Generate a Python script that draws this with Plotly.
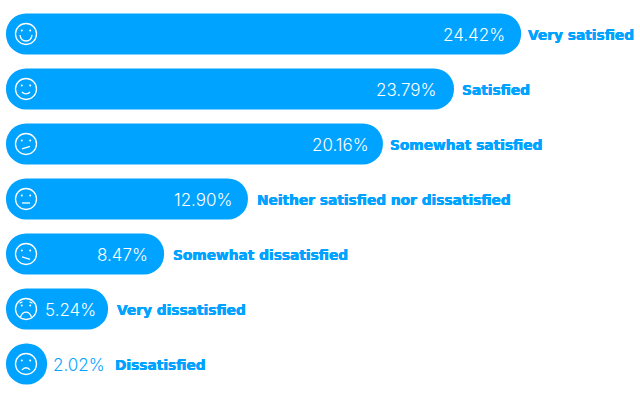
import plotly.graph_objects as go

categories = ["Very satisfied", "Satisfied", "Somewhat satisfied",
              "Neither satisfied nor dissatisfied", "Somewhat dissatisfied",
              "Very dissatisfied", "Dissatisfied"]
percent_labels = ["24.42%", "23.79%", "20.16%", "12.90%", "8.47%", "5.24%", "2.02%"]
# drawn bar lengths (not strictly proportional to labels)
bar_lengths = [27.47, 23.89, 20.1, 12.9, 8.43, 5.44, 2.19]
faces = ["big", "smile", "smirk", "flat", "skew", "sad", "frown"]
percent_shifts = [-14, -16, -12, -14, -14, -10, 4]
label_shifts = [5, 6, 5, 7, 7, 7, 66]

BLUE = "#00A3FF"
FONT = "DejaVu Sans"
PFONT = "Inter"

mouths = {
    "big": "M-6,1 C-5,9 5,9 6,1",
    "smile": "M-4,3 C-2,5.5 2,5.5 4,3",
    "smirk": "M-4,5 L4,2.3",
    "flat": "M-4,4 L4,4",
    "skew": "M-4,3 L4,5.5",
    "sad": "M-5.5,8 C-3,1.5 3,1.5 5.5,8",
    "frown": "M-4,6 C-2,3 2,3 4,6",
}

# with an explicit base, plotly rounds both ends of each bar
fig = go.Figure(go.Bar(
    x=bar_lengths, y=categories, base=[0] * len(categories), orientation="h",
    marker=dict(color=BLUE, cornerradius=20.5, line=dict(width=0)),
    width=0.745, hoverinfo="skip",
))

shapes = []
annotations = []
for cat, pct, length, face, ps, ls in zip(categories, percent_labels, bar_lengths,
                                          faces, percent_shifts, label_shifts):
    anchor = dict(xref="x", yref="y", xanchor=0, yanchor=cat,
                  xsizemode="pixel", ysizemode="pixel")
    shapes.append(dict(type="circle", x0=9.5, x1=30.5, y0=-10.5, y1=10.5,
                       line=dict(color="white", width=1.3), **anchor))
    for ex in (15.8, 24.2):
        shapes.append(dict(type="circle", x0=ex - 1, x1=ex + 1, y0=2.4, y1=4.4,
                           fillcolor="white", line=dict(width=0), **anchor))
    m = mouths[face]
    parts = []
    for tok in m.replace("M", " M ").replace("C", " C ").replace("L", " L ").split():
        if "," in tok:
            a, b = tok.split(",")
            parts.append(f"{float(a) + 20},{-float(b)}")
        else:
            parts.append(tok)
    shapes.append(dict(type="path", path=" ".join(parts),
                       line=dict(color="white", width=1.3), **anchor))
    if face == "sad":
        for p in ("M13.5,5.8 L16.5,7.3", "M26.5,5.8 L23.5,7.3"):
            shapes.append(dict(type="path", path=p,
                               line=dict(color="white", width=1.1), **anchor))

    last = face == "frown"
    annotations.append(dict(
        x=length, y=cat, text=pct, showarrow=False,
        xanchor="left" if last else "right", xshift=ps, yshift=-1,
        font=dict(family=PFONT, size=17, weight=300,
                  color=BLUE if last else "white"),
    ))
    annotations.append(dict(
        x=length, y=cat, text=f"<b>{cat}</b>", showarrow=False, xanchor="left",
        xshift=ls, yshift=-1,
        font=dict(family=FONT, size=13.75, color=BLUE,
                  shadow="0.3px 0 0 #00A3FF, -0.3px 0 0 #00A3FF"),
    ))

fig.update_layout(
    width=640, height=396, margin=dict(l=0, r=0, t=0, b=0),
    paper_bgcolor="white", plot_bgcolor="white", showlegend=False,
    xaxis=dict(range=[-0.32, 33.81], visible=False, fixedrange=True),
    yaxis=dict(range=[6.582, -0.618], visible=False, fixedrange=True,
               categoryorder="array", categoryarray=categories),
    shapes=shapes, annotations=annotations,
)
fig.write_html("out.html", config={"displayModeBar": False},
               post_script="document.body.style.margin='0';")
